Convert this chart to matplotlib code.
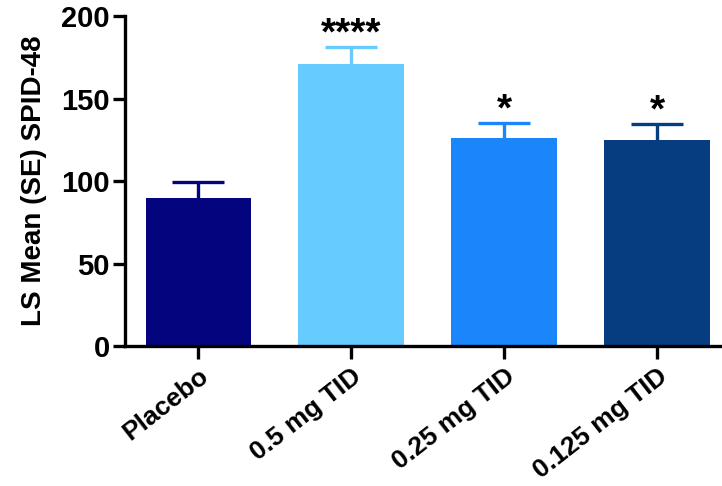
import numpy as np
import matplotlib.pyplot as plt

plt.rcParams['font.family'] = ['Liberation Sans', 'DejaVu Sans']
plt.rcParams['font.weight'] = 'bold'

# LS mean and standard error per treatment arm
groups = ['Placebo', '0.5 mg TID', '0.25 mg TID', '0.125 mg TID']
ls_mean = [90, 171, 126, 125]
se = [9.5, 10, 9.4, 9.6]
signif = ['', '****', '*', '*']
colors = ['#04047E', '#66CCFF', '#1A86FA', '#063D80']

fig = plt.figure(figsize=(7.22, 4.86), dpi=100)
ax = fig.add_axes([0.173, 0.288, 0.824, 0.679])

x = np.arange(len(groups))
# error bars go under the bars so only the upper half shows
for xi, m, e, c in zip(x, ls_mean, se, colors):
    ax.errorbar(xi, m, yerr=e, color=c, elinewidth=2.4,
                capsize=19, capthick=2.4, zorder=1)
ax.bar(x, ls_mean, width=0.69, color=colors, zorder=2)
for xi, m, e, s in zip(x, ls_mean, se, signif):
    if s:
        ax.text(xi, m + e + 1.5, s, ha='center', va='baseline', fontsize=28,
                fontweight='bold', zorder=3)

ax.set_xlim(-0.48, 3.41)
ax.set_ylim(0, 200)
ax.set_yticks([0, 50, 100, 150, 200])
ax.set_xticks(x)
ax.set_xticklabels(groups, rotation=38, ha='right', rotation_mode='anchor',
                   fontsize=19, fontweight='bold')
ax.tick_params(axis='y', labelsize=21, width=2.4, length=9, pad=2)
ax.tick_params(axis='x', width=2.4, length=9, pad=4)
for lbl in ax.get_yticklabels():
    lbl.set_fontweight('bold')

for side in ['top', 'right']:
    ax.spines[side].set_visible(False)
for side in ['left', 'bottom']:
    ax.spines[side].set_linewidth(2.4)

ax.set_ylabel('LS Mean (SE) SPID-48', fontsize=20, fontweight='bold',
              labelpad=10)

fig.savefig('out.png', dpi=100)
